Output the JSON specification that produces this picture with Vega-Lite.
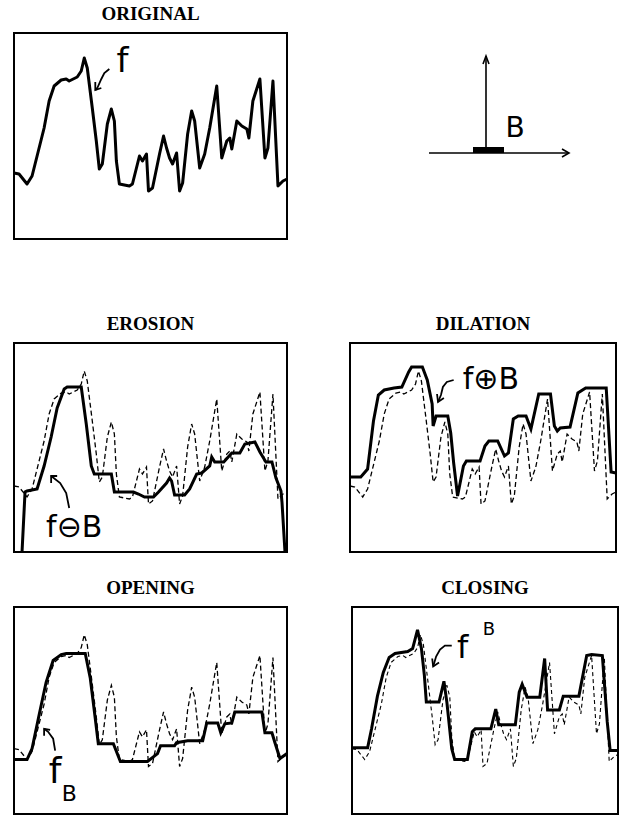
{
  "$schema": "https://vega.github.io/schema/vega-lite/v6.json",
  "padding": {"left": 7, "top": 4, "right": 0, "bottom": 0},
  "background": "white",
  "config": {
    "view": {"stroke": "black", "strokeWidth": 2},
    "title": {"font": "Liberation Serif", "fontSize": 19, "fontWeight": "bold", "offset": 9, "color": "black", "anchor": "middle"}
  },
  "datasets": {
    "f": [
      {"x":0,"y":66},{"x":5,"y":65},{"x":13,"y":55},{"x":18,"y":63},{"x":25,"y":91},{"x":30,"y":111},{"x":35,"y":138},{"x":40,"y":153},{"x":47,"y":159},{"x":52,"y":160},{"x":55,"y":158},{"x":63,"y":162},{"x":67,"y":168},{"x":70,"y":181},{"x":73,"y":171},{"x":78,"y":131},{"x":82,"y":98},{"x":85,"y":70},{"x":88,"y":75},{"x":93,"y":115},{"x":97,"y":130},{"x":100,"y":118},{"x":102,"y":78},{"x":105,"y":55},{"x":115,"y":53},{"x":118,"y":55},{"x":125,"y":83},{"x":128,"y":78},{"x":132,"y":85},{"x":134,"y":48},{"x":138,"y":51},{"x":145,"y":85},{"x":149,"y":103},{"x":152,"y":91},{"x":155,"y":81},{"x":158,"y":75},{"x":162,"y":86},{"x":165,"y":48},{"x":168,"y":56},{"x":173,"y":105},{"x":177,"y":128},{"x":180,"y":118},{"x":185,"y":71},{"x":190,"y":85},{"x":195,"y":111},{"x":202,"y":153},{"x":207,"y":81},{"x":212,"y":98},{"x":215,"y":101},{"x":217,"y":90},{"x":222,"y":118},{"x":227,"y":113},{"x":232,"y":110},{"x":234,"y":101},{"x":238,"y":138},{"x":245,"y":160},{"x":250,"y":81},{"x":253,"y":91},{"x":258,"y":158},{"x":263,"y":53},{"x":268,"y":58},{"x":272,"y":60}
    ],
    "erosion": [
      {"x":8,"y":0},{"x":11,"y":60},{"x":13,"y":61},{"x":23,"y":63},{"x":30,"y":86},{"x":37,"y":115},{"x":43,"y":144},{"x":50,"y":163},{"x":53,"y":165},{"x":67,"y":165},{"x":72,"y":128},{"x":77,"y":86},{"x":80,"y":78},{"x":97,"y":78},{"x":100,"y":60},{"x":119,"y":60},{"x":124,"y":58},{"x":130,"y":55},{"x":139,"y":55},{"x":144,"y":60},{"x":152,"y":69},{"x":155,"y":74},{"x":157,"y":71},{"x":160,"y":57},{"x":170,"y":57},{"x":175,"y":63},{"x":182,"y":78},{"x":187,"y":79},{"x":195,"y":86},{"x":197,"y":95},{"x":200,"y":90},{"x":209,"y":90},{"x":217,"y":99},{"x":225,"y":99},{"x":230,"y":108},{"x":240,"y":110},{"x":245,"y":100},{"x":251,"y":90},{"x":257,"y":90},{"x":261,"y":74},{"x":266,"y":61},{"x":267,"y":50},{"x":270,"y":0}
    ],
    "dilation": [
      {"x":0,"y":75},{"x":11,"y":75},{"x":18,"y":83},{"x":24,"y":131},{"x":29,"y":157},{"x":35,"y":162},{"x":45,"y":164},{"x":53,"y":165},{"x":60,"y":180},{"x":63,"y":185},{"x":74,"y":185},{"x":79,"y":172},{"x":84,"y":148},{"x":85,"y":126},{"x":88,"y":136},{"x":100,"y":136},{"x":103,"y":119},{"x":106,"y":89},{"x":110,"y":56},{"x":116,"y":86},{"x":119,"y":91},{"x":133,"y":91},{"x":138,"y":106},{"x":142,"y":111},{"x":151,"y":111},{"x":158,"y":96},{"x":162,"y":99},{"x":167,"y":133},{"x":172,"y":136},{"x":180,"y":136},{"x":185,"y":123},{"x":193,"y":158},{"x":205,"y":158},{"x":209,"y":126},{"x":212,"y":121},{"x":215,"y":124},{"x":225,"y":125},{"x":233,"y":159},{"x":241,"y":164},{"x":262,"y":164},{"x":267,"y":80},{"x":272,"y":79}
    ],
    "opening": [
      {"x":0,"y":55},{"x":13,"y":55},{"x":18,"y":66},{"x":25,"y":100},{"x":32,"y":133},{"x":39,"y":155},{"x":47,"y":161},{"x":52,"y":162},{"x":71,"y":162},{"x":76,"y":137},{"x":81,"y":96},{"x":84,"y":71},{"x":99,"y":71},{"x":106,"y":53},{"x":133,"y":53},{"x":143,"y":61},{"x":146,"y":69},{"x":160,"y":69},{"x":162,"y":72},{"x":173,"y":74},{"x":188,"y":74},{"x":192,"y":92},{"x":203,"y":92},{"x":206,"y":82},{"x":210,"y":91},{"x":217,"y":92},{"x":220,"y":103},{"x":247,"y":103},{"x":250,"y":82},{"x":257,"y":82},{"x":260,"y":72},{"x":265,"y":56},{"x":272,"y":61}
    ],
    "closing": [
      {"x":0,"y":67},{"x":16,"y":67},{"x":20,"y":86},{"x":26,"y":119},{"x":32,"y":143},{"x":38,"y":158},{"x":44,"y":162},{"x":57,"y":164},{"x":62,"y":167},{"x":67,"y":186},{"x":71,"y":167},{"x":74,"y":140},{"x":76,"y":113},{"x":89,"y":113},{"x":94,"y":134},{"x":97,"y":113},{"x":102,"y":66},{"x":105,"y":55},{"x":118,"y":55},{"x":123,"y":83},{"x":126,"y":86},{"x":142,"y":86},{"x":147,"y":106},{"x":150,"y":90},{"x":167,"y":90},{"x":171,"y":123},{"x":174,"y":131},{"x":179,"y":118},{"x":192,"y":118},{"x":197,"y":157},{"x":200,"y":105},{"x":212,"y":105},{"x":216,"y":119},{"x":232,"y":119},{"x":240,"y":160},{"x":245,"y":161},{"x":256,"y":160},{"x":261,"y":93},{"x":264,"y":64},{"x":272,"y":64}
    ],
    "labels": [
      {"panel":"orig","x":108,"y":177,"t":"f"},
      {"panel":"erosion","x":60,"y":24,"t":"f⊖B"},
      {"panel":"dilation","x":144,"y":172,"t":"f⊕B"},
      {"panel":"opening","x":41,"y":42,"t":"f"},
      {"panel":"closing","x":113,"y":168,"t":"f"}
    ],
    "scripts": [
      {"panel":"opening","x":55,"y":20,"t":"B"},
      {"panel":"closing","x":140,"y":186,"t":"B"}
    ],
    "arrows": [
      {"panel":"orig","seg":"s","i":0,"x":95,"y":170},{"panel":"orig","seg":"s","i":1,"x":90,"y":166},{"panel":"orig","seg":"s","i":2,"x":87,"y":160},{"panel":"orig","seg":"s","i":3,"x":83,"y":151},{"panel":"orig","seg":"s","i":4,"x":81,"y":149},
      {"panel":"orig","seg":"h","i":0,"x":81,"y":157},{"panel":"orig","seg":"h","i":1,"x":81,"y":149},{"panel":"orig","seg":"h","i":2,"x":87,"y":151},
      {"panel":"erosion","seg":"s","i":0,"x":55,"y":44},{"panel":"erosion","seg":"s","i":1,"x":52,"y":59},{"panel":"erosion","seg":"s","i":2,"x":46,"y":69},{"panel":"erosion","seg":"s","i":3,"x":37,"y":76},
      {"panel":"erosion","seg":"h","i":0,"x":37,"y":69},{"panel":"erosion","seg":"h","i":1,"x":37,"y":76},{"panel":"erosion","seg":"h","i":2,"x":43,"y":76},
      {"panel":"dilation","seg":"s","i":0,"x":106,"y":172},{"panel":"dilation","seg":"s","i":1,"x":99,"y":170},{"panel":"dilation","seg":"s","i":2,"x":95,"y":165},{"panel":"dilation","seg":"s","i":3,"x":93,"y":157},{"panel":"dilation","seg":"s","i":4,"x":90,"y":150},
      {"panel":"dilation","seg":"h","i":0,"x":89,"y":158},{"panel":"dilation","seg":"h","i":1,"x":90,"y":150},{"panel":"dilation","seg":"h","i":2,"x":96,"y":154},
      {"panel":"opening","seg":"s","i":0,"x":41,"y":64},{"panel":"opening","seg":"s","i":1,"x":39,"y":76},{"panel":"opening","seg":"s","i":2,"x":34,"y":83},{"panel":"opening","seg":"s","i":3,"x":30,"y":86},
      {"panel":"opening","seg":"h","i":0,"x":30,"y":79},{"panel":"opening","seg":"h","i":1,"x":30,"y":86},{"panel":"opening","seg":"h","i":2,"x":36,"y":85},
      {"panel":"closing","seg":"s","i":0,"x":102,"y":170},{"panel":"closing","seg":"s","i":1,"x":95,"y":170},{"panel":"closing","seg":"s","i":2,"x":90,"y":166},{"panel":"closing","seg":"s","i":3,"x":86,"y":159},{"panel":"closing","seg":"s","i":4,"x":83,"y":149},
      {"panel":"closing","seg":"h","i":0,"x":82,"y":157},{"panel":"closing","seg":"h","i":1,"x":83,"y":149},{"panel":"closing","seg":"h","i":2,"x":89,"y":153}
    ],
    "bshape": [
      {"seg":"v","i":0,"x":145,"y":88},{"seg":"v","i":1,"x":145,"y":183},
      {"seg":"vh","i":0,"x":142,"y":175},{"seg":"vh","i":1,"x":145,"y":183},{"seg":"vh","i":2,"x":148,"y":175},
      {"seg":"h","i":0,"x":88,"y":86},{"seg":"h","i":1,"x":228,"y":86},
      {"seg":"hh","i":0,"x":221,"y":90},{"seg":"hh","i":1,"x":228,"y":86},{"seg":"hh","i":2,"x":221,"y":82}
    ],
    "bbar": [{"x":132,"y":89},{"x":163,"y":89}],
    "blabel": [{"x":174,"y":110,"t":"B"}]
  },
  "spacing": 74,
  "vconcat": [
    {
      "spacing": 51,
      "hconcat": [
        {
          "title": "ORIGINAL",
          "width": 273, "height": 206,
          "encoding": {
            "x": {"field": "x", "type": "quantitative", "scale": {"domain": [0, 272]}, "axis": null},
            "y": {"field": "y", "type": "quantitative", "scale": {"domain": [0, 206]}, "axis": null}
          },
          "layer": [
            {"data": {"name": "f"}, "mark": {"type": "line", "color": "black", "strokeWidth": 3, "strokeJoin": "round"}},
            {"data": {"name": "labels"}, "transform": [{"filter": "datum.panel == 'orig'"}], "mark": {"type": "text", "font": "DejaVu Sans", "fontSize": 34, "color": "black", "align": "center", "baseline": "middle"}, "encoding": {"text": {"field": "t"}}},
            {"data": {"name": "arrows"}, "transform": [{"filter": "datum.panel == 'orig'"}], "mark": {"type": "line", "color": "black", "strokeWidth": 1.8}, "encoding": {"detail": {"field": "seg"}, "order": {"field": "i", "type": "quantitative"}}}
          ]
        },
        {
          "title": " ",
          "width": 266, "height": 206,
          "view": {"stroke": null},
          "encoding": {
            "x": {"field": "x", "type": "quantitative", "scale": {"domain": [0, 266]}, "axis": null},
            "y": {"field": "y", "type": "quantitative", "scale": {"domain": [0, 206]}, "axis": null}
          },
          "layer": [
            {"data": {"name": "bshape"}, "mark": {"type": "line", "color": "black", "strokeWidth": 1.6}, "encoding": {"detail": {"field": "seg"}, "order": {"field": "i", "type": "quantitative"}}},
            {"data": {"name": "bbar"}, "mark": {"type": "line", "color": "black", "strokeWidth": 6}},
            {"data": {"name": "blabel"}, "mark": {"type": "text", "font": "DejaVu Sans", "fontSize": 28, "color": "black", "align": "center", "baseline": "middle"}, "encoding": {"text": {"field": "t"}}}
          ]
        }
      ]
    },
    {
      "spacing": 19,
      "vconcat": [
        {
          "spacing": 51,
          "hconcat": [
            {
              "title": "EROSION",
              "width": 273, "height": 209,
              "encoding": {
                "x": {"field": "x", "type": "quantitative", "scale": {"domain": [0, 272]}, "axis": null},
                "y": {"field": "y", "type": "quantitative", "scale": {"domain": [0, 209]}, "axis": null}
              },
              "layer": [
                {"data": {"name": "f"}, "mark": {"type": "line", "color": "black", "strokeWidth": 1.3, "strokeDash": [5, 3]}},
                {"data": {"name": "erosion"}, "mark": {"type": "line", "color": "black", "strokeWidth": 3}},
                {"data": {"name": "labels"}, "transform": [{"filter": "datum.panel == 'erosion'"}], "mark": {"type": "text", "font": "DejaVu Sans", "fontSize": 30, "color": "black", "align": "center", "baseline": "middle"}, "encoding": {"text": {"field": "t"}}},
                {"data": {"name": "arrows"}, "transform": [{"filter": "datum.panel == 'erosion'"}], "mark": {"type": "line", "color": "black", "strokeWidth": 1.8}, "encoding": {"detail": {"field": "seg"}, "order": {"field": "i", "type": "quantitative"}}}
              ]
            },
            {
              "title": "DILATION",
              "width": 266, "height": 209,
              "encoding": {
                "x": {"field": "x", "type": "quantitative", "scale": {"domain": [0, 272]}, "axis": null},
                "y": {"field": "y", "type": "quantitative", "scale": {"domain": [0, 209]}, "axis": null}
              },
              "layer": [
                {"data": {"name": "f"}, "mark": {"type": "line", "color": "black", "strokeWidth": 1.3, "strokeDash": [5, 3]}},
                {"data": {"name": "dilation"}, "mark": {"type": "line", "color": "black", "strokeWidth": 3}},
                {"data": {"name": "labels"}, "transform": [{"filter": "datum.panel == 'dilation'"}], "mark": {"type": "text", "font": "DejaVu Sans", "fontSize": 30, "color": "black", "align": "center", "baseline": "middle"}, "encoding": {"text": {"field": "t"}}},
                {"data": {"name": "arrows"}, "transform": [{"filter": "datum.panel == 'dilation'"}], "mark": {"type": "line", "color": "black", "strokeWidth": 1.8}, "encoding": {"detail": {"field": "seg"}, "order": {"field": "i", "type": "quantitative"}}}
              ]
            }
          ]
        },
        {
          "spacing": 51,
          "hconcat": [
            {
              "title": "OPENING",
              "width": 273, "height": 207,
              "encoding": {
                "x": {"field": "x", "type": "quantitative", "scale": {"domain": [0, 272]}, "axis": null},
                "y": {"field": "y", "type": "quantitative", "scale": {"domain": [0, 209]}, "axis": null}
              },
              "layer": [
                {"data": {"name": "f"}, "mark": {"type": "line", "color": "black", "strokeWidth": 1.3, "strokeDash": [5, 3]}},
                {"data": {"name": "opening"}, "mark": {"type": "line", "color": "black", "strokeWidth": 3}},
                {"data": {"name": "labels"}, "transform": [{"filter": "datum.panel == 'opening'"}], "mark": {"type": "text", "font": "DejaVu Sans", "fontSize": 36, "color": "black", "align": "center", "baseline": "middle"}, "encoding": {"text": {"field": "t"}}},
                {"data": {"name": "scripts"}, "transform": [{"filter": "datum.panel == 'opening'"}], "mark": {"type": "text", "font": "DejaVu Sans", "fontSize": 22, "color": "black", "align": "center", "baseline": "middle"}, "encoding": {"text": {"field": "t"}}},
                {"data": {"name": "arrows"}, "transform": [{"filter": "datum.panel == 'opening'"}], "mark": {"type": "line", "color": "black", "strokeWidth": 1.8}, "encoding": {"detail": {"field": "seg"}, "order": {"field": "i", "type": "quantitative"}}}
              ]
            },
            {
              "title": "CLOSING",
              "width": 266, "height": 207,
              "encoding": {
                "x": {"field": "x", "type": "quantitative", "scale": {"domain": [0, 272]}, "axis": null},
                "y": {"field": "y", "type": "quantitative", "scale": {"domain": [0, 209]}, "axis": null}
              },
              "layer": [
                {"data": {"name": "f"}, "mark": {"type": "line", "color": "black", "strokeWidth": 1.1, "strokeDash": [4, 3]}},
                {"data": {"name": "closing"}, "mark": {"type": "line", "color": "black", "strokeWidth": 3}},
                {"data": {"name": "labels"}, "transform": [{"filter": "datum.panel == 'closing'"}], "mark": {"type": "text", "font": "DejaVu Sans", "fontSize": 32, "color": "black", "align": "center", "baseline": "middle"}, "encoding": {"text": {"field": "t"}}},
                {"data": {"name": "scripts"}, "transform": [{"filter": "datum.panel == 'closing'"}], "mark": {"type": "text", "font": "DejaVu Sans", "fontSize": 18, "color": "black", "align": "center", "baseline": "middle"}, "encoding": {"text": {"field": "t"}}},
                {"data": {"name": "arrows"}, "transform": [{"filter": "datum.panel == 'closing'"}], "mark": {"type": "line", "color": "black", "strokeWidth": 1.8}, "encoding": {"detail": {"field": "seg"}, "order": {"field": "i", "type": "quantitative"}}}
              ]
            }
          ]
        }
      ]
    }
  ]
}
